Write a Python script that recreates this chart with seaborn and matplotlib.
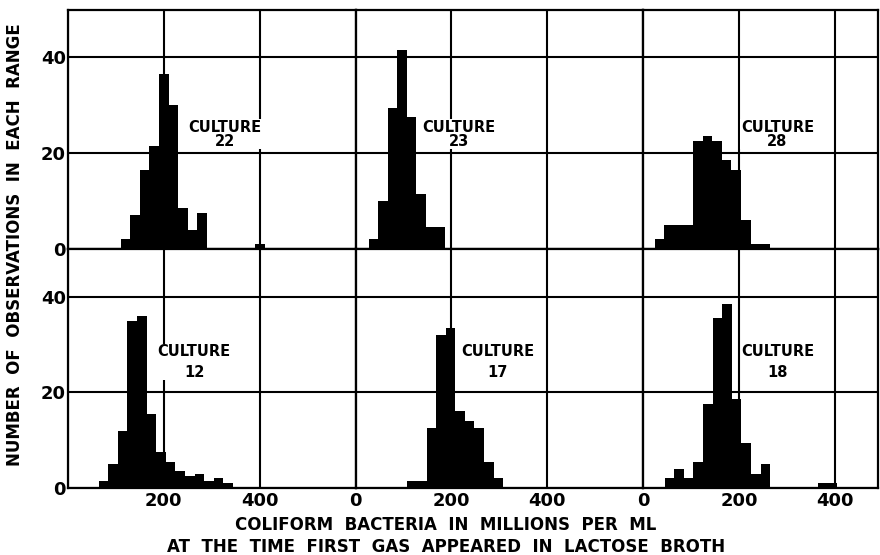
import numpy as np
import pandas as pd
import matplotlib
matplotlib.use("Agg")
import matplotlib.pyplot as plt
import seaborn as sns

# ---------------- data ----------------
BIN = 20  # millions per ml per range

c22_start = 110
c22_counts = [2, 7, 16.5, 21.5, 36.5, 30, 8.5, 4, 7.5, 0, 0, 0, 0, 0, 1]
c23_start = 27
c23_counts = [2, 10, 29.5, 41.5, 27.5, 11.5, 4.5, 4.5]
c28_start = 24
c28_counts = [2, 5, 5, 5, 22.5, 23.5, 22.5, 18.5, 16.5, 6, 1, 1]
c12_start = 64
c12_counts = [1.5, 5, 12, 35, 36, 15.5, 7.5, 5.5, 3.5, 2.5, 3, 1.5, 2, 1]
c17_start = 108
c17_counts = [1.5, 1.5, 12.5, 32, 33.5, 16, 14, 12.5, 5.5, 2]
c18_start = 45
c18_counts = [2, 4, 2, 5.5, 17.5, 35.5, 38.5, 18.5, 9.5, 3, 5, 0, 0, 0, 0, 0, 1, 1]

culture_names = ["22", "23", "28", "12", "17", "18"]
starts = [c22_start, c23_start, c28_start, c12_start, c17_start, c18_start]
counts = [c22_counts, c23_counts, c28_counts, c12_counts, c17_counts, c18_counts]

y_ticks = [0, 20, 40]
x_ticks = [0, 200, 400]
x_tick_labels_first = ["", "200", "400"]
x_tick_labels = ["0", "200", "400"]

x_label_1 = "COLIFORM  BACTERIA  IN  MILLIONS  PER  ML"
x_label_2 = "AT  THE  TIME  FIRST  GAS  APPEARED  IN  LACTOSE  BROTH"
y_label = "NUMBER  OF  OBSERVATIONS  IN  EACH  RANGE"

# ---------------- styling ----------------
sns.set_style("white")
plt.rcParams["font.family"] = ["DejaVu Sans"]
plt.rcParams["font.weight"] = "bold"
for key in ["text.color", "axes.labelcolor", "xtick.color", "ytick.color"]:
    plt.rcParams[key] = "black"

W, H = 880, 555
fig = plt.figure(figsize=(W / 100, H / 100), dpi=100)
gs = fig.add_gridspec(2, 3, left=68 / W, right=878 / W, top=1 - 9.5 / H,
                      bottom=1 - 488 / H, wspace=0, hspace=0,
                      width_ratios=[600, 600, 490])

xlims = [600, 600, 490]
label_pos = [(327, 23.9), (215, 23.9), (280, 23.9),
             (263, 26.3), (296, 26.3), (281, 26.3)]

for i in range(6):
    r, c = divmod(i, 3)
    ax = fig.add_subplot(gs[r, c])
    n = len(counts[i])
    lo = starts[i] + BIN * np.arange(n)
    df = pd.DataFrame({"value": lo + BIN / 2, "count": counts[i]})
    sns.histplot(data=df, x="value", weights="count", binwidth=BIN,
                 binrange=(starts[i], starts[i] + BIN * n), ax=ax,
                 color="black", alpha=1, edgecolor="black", linewidth=0,
                 zorder=2)
    ax.set_xlim(0, xlims[c])
    ax.set_ylim(0, 50)
    ax.set_xticks(x_ticks)
    ax.set_yticks(y_ticks)
    ax.set_axisbelow(True)
    ax.grid(True, color="black", linewidth=1.5)
    for s in ax.spines.values():
        s.set_color("black")
        s.set_linewidth(1.6)
    ax.tick_params(length=0, labelsize=13, pad=3, colors="black")
    ax.set_xlabel("")
    ax.set_ylabel("")
    if r == 1:
        ax.set_xticklabels(x_tick_labels_first if c == 0 else x_tick_labels,
                           fontweight="bold")
    else:
        ax.set_xticklabels([])
    if c == 0:
        ax.set_yticklabels([str(v) for v in y_ticks], fontweight="bold")
        ax.tick_params(axis="y", pad=1.5)
    else:
        ax.set_yticklabels([])
    lx, ly = label_pos[i]
    ax.text(lx, ly, "CULTURE\n" + culture_names[i], ha="center", va="center",
            multialignment="center", fontsize=10.5, fontweight="bold",
            color="black", linespacing=0.95 if r == 0 else 1.45, zorder=5,
            bbox=dict(facecolor="white", edgecolor="none", pad=0.2))

fig.text(446 / W, 1 - 525 / H, x_label_1, ha="center", va="center",
         fontsize=12, fontweight="bold", color="black")
fig.text(446 / W, 1 - 546.5 / H, x_label_2, ha="center", va="center",
         fontsize=12, fontweight="bold", color="black")
fig.text(15 / W, 1 - 245 / H, y_label, ha="center", va="center",
         rotation=90, fontsize=12, fontweight="bold", color="black")

fig.savefig("out.png", dpi=100, facecolor="white")
